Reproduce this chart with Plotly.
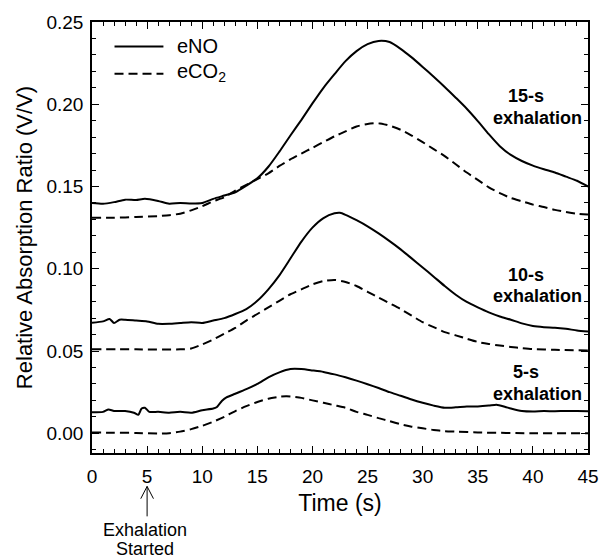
import plotly.graph_objects as go

# Time axes (s) and absorption ratios (V/V) for each breath-hold run
t_15_no = [0, 1, 2, 3, 4, 4.8, 6, 7, 8, 9, 10, 11, 12, 13, 14, 15, 16, 17, 18, 19, 20, 21, 22, 23,
           24, 25, 26, 27, 28, 29, 30, 31, 32, 33, 34, 35, 36, 37, 38, 39, 40, 41, 42, 43, 44, 45]
no_15 = [0.1400, 0.1395, 0.1405, 0.1420, 0.1418, 0.1425, 0.1412, 0.1395, 0.1400, 0.1397, 0.1400,
         0.1425, 0.1445, 0.1465, 0.1505, 0.1550, 0.1620, 0.1712, 0.1810, 0.1905, 0.2005, 0.2100,
         0.2183, 0.2262, 0.2323, 0.2365, 0.2385, 0.2378, 0.2337, 0.2285, 0.2227, 0.2167, 0.2105,
         0.2040, 0.1973, 0.1898, 0.1818, 0.1745, 0.1692, 0.1655, 0.1627, 0.1605, 0.1585, 0.1560,
         0.1535, 0.1500]

t_15_co2 = [0, 2, 4, 6, 7, 8, 9, 10, 11, 12, 13, 14, 15, 16, 17, 18, 19, 20, 21, 22, 23, 24, 25,
            26, 27, 28, 29, 30, 31, 32, 33, 34, 35, 36, 37, 38, 39, 40, 41, 42, 43, 44, 45]
co2_15 = [0.1310, 0.1310, 0.1315, 0.1320, 0.1325, 0.1335, 0.1355, 0.1380, 0.1410, 0.1435, 0.1475,
          0.1510, 0.1545, 0.1580, 0.1625, 0.1665, 0.1700, 0.1735, 0.1770, 0.1805, 0.1835, 0.1865,
          0.1880, 0.1885, 0.1870, 0.1845, 0.1810, 0.1770, 0.1727, 0.1685, 0.1635, 0.1585, 0.1540,
          0.1495, 0.1460, 0.1430, 0.1410, 0.1390, 0.1375, 0.1358, 0.1345, 0.1335, 0.1330]

t_10_no = [0, 1, 1.6, 2, 2.5, 3, 4, 5, 6, 7, 8, 9, 10, 11, 12, 13, 14, 15, 16, 17, 18, 19, 20,
           21, 22, 22.5, 23, 24, 25, 26, 27, 28, 29, 30, 31, 32, 33, 34, 35, 36, 37, 38, 39, 40,
           41, 42, 43, 44, 45]
no_10 = [0.0672, 0.0680, 0.0695, 0.0670, 0.0690, 0.0690, 0.0685, 0.0680, 0.0665, 0.0665, 0.0670,
         0.0675, 0.0670, 0.0685, 0.0700, 0.0725, 0.0755, 0.0805, 0.0875, 0.0960, 0.1062, 0.1165,
         0.1250, 0.1308, 0.1337, 0.1340, 0.1328, 0.1295, 0.1258, 0.1215, 0.1168, 0.1118, 0.1063,
         0.1008, 0.0952, 0.0895, 0.0842, 0.0798, 0.0765, 0.0735, 0.0710, 0.0690, 0.0668, 0.0652,
         0.0645, 0.0642, 0.0635, 0.0625, 0.0618]

t_10_co2 = [0, 4, 8, 9, 10, 11, 12, 13, 14, 15, 16, 17, 18, 19, 20, 21, 22, 23, 24, 25, 26, 27,
            28, 29, 30, 31, 32, 33, 34, 35, 36, 37, 38, 39, 40, 42, 45]
co2_10 = [0.0510, 0.0510, 0.0510, 0.0515, 0.0540, 0.0570, 0.0605, 0.0640, 0.0685, 0.0725, 0.0765,
          0.0805, 0.0845, 0.0875, 0.0905, 0.0925, 0.0932, 0.0920, 0.0895, 0.0860, 0.0825, 0.0790,
          0.0755, 0.0715, 0.0675, 0.0645, 0.0615, 0.0595, 0.0575, 0.0555, 0.0543, 0.0533, 0.0525,
          0.0518, 0.0512, 0.0507, 0.0503]

t_5_no = [0, 1, 1.5, 2, 3, 3.8, 4.2, 4.5, 4.8, 5.2, 6, 7, 8, 9, 10, 11, 11.3, 11.8, 12.2, 13, 14,
          15, 16, 17, 18, 19, 20, 21, 22, 23, 24, 25, 26, 27, 28, 29, 30, 31, 32, 33, 34, 35, 36,
          36.7, 37.5, 38, 39, 40, 41, 42, 43, 44, 45]
no_5 = [0.0127, 0.0130, 0.0145, 0.0135, 0.0135, 0.0125, 0.0112, 0.0150, 0.0155, 0.0130, 0.0130,
        0.0125, 0.0130, 0.0125, 0.0140, 0.0150, 0.0158, 0.0198, 0.0218, 0.0240, 0.0268, 0.0300,
        0.0340, 0.0370, 0.0390, 0.0390, 0.0382, 0.0373, 0.0358, 0.0340, 0.0320, 0.0298, 0.0275,
        0.0250, 0.0228, 0.0205, 0.0185, 0.0168, 0.0155, 0.0158, 0.0163, 0.0163, 0.0168, 0.0174,
        0.0160, 0.0150, 0.0135, 0.0132, 0.0135, 0.0134, 0.0136, 0.0135, 0.0134]

t_5_co2 = [0, 2, 4, 6, 7, 8, 9, 10, 11, 12, 13, 14, 15, 16, 17, 17.6, 18, 19, 20, 21, 22, 23, 24,
           25, 26, 27, 28, 29, 30, 31, 32, 33, 35, 40, 45]
co2_5 = [0.0005, 0.0003, 0.0002, -0.0002, 0.0000, 0.0010, 0.0025, 0.0045, 0.0070, 0.0100, 0.0135,
         0.0165, 0.0190, 0.0210, 0.0222, 0.0225, 0.0224, 0.0215, 0.0200, 0.0185, 0.0170, 0.0155,
         0.0130, 0.0112, 0.0092, 0.0074, 0.0055, 0.0040, 0.0030, 0.0020, 0.0013, 0.0010, 0.0005,
         0.0000, 0.0000]

run_labels = ["15-s", "10-s", "5-s"]
run_label_y = [0.205, 0.0964, 0.0371]
word_y = [0.1917, 0.0833, 0.0241]

FONT = "Liberation Sans, Arial, sans-serif"
DASH = "9px,5px"

fig = go.Figure()
series = [
    (t_15_no, no_15, "solid"), (t_15_co2, co2_15, DASH),
    (t_10_no, no_10, "solid"), (t_10_co2, co2_10, DASH),
    (t_5_no, no_5, "solid"), (t_5_co2, co2_5, DASH),
]
for tx, ys, dash in series:
    fig.add_trace(go.Scatter(
        x=tx, y=ys, mode="lines", showlegend=False,
        line=dict(color="black", width=2, dash=dash, shape="spline", smoothing=0.6),
    ))

axis_common = dict(
    showline=True, linecolor="black", linewidth=1.5, mirror="allticks",
    ticks="inside", ticklen=7, tickwidth=1.2, tickcolor="black",
    showgrid=False, zeroline=False,
    tickfont=dict(family=FONT, size=19, color="black"),
)

fig.update_xaxes(
    range=[0, 45], tickmode="linear", tick0=0, dtick=5, ticklabelstandoff=5,
    minor=dict(dtick=1, ticks="inside", ticklen=4, tickwidth=1, tickcolor="black"),
    title=dict(text="Time (s)", font=dict(family=FONT, size=23, color="black"), standoff=9),
    **axis_common,
)
fig.update_yaxes(
    range=[-0.012, 0.25], tickmode="linear", tick0=0, dtick=0.05, tickformat=".2f",
    ticklabelstandoff=3,
    minor=dict(dtick=0.01, ticks="inside", ticklen=4, tickwidth=1, tickcolor="black"),
    title=dict(text="Relative Absorption Ratio (V/V)",
               font=dict(family=FONT, size=22, color="black"), standoff=8),
    **axis_common,
)

annotations = []
for lab, yl, yw in zip(run_labels, run_label_y, word_y):
    annotations.append(dict(x=39.4, y=yl, xref="x", yref="y", text=f"<b>{lab}</b>",
                            yanchor="middle", showarrow=False,
                            font=dict(family=FONT, size=18, color="black")))
    annotations.append(dict(x=40.45, y=yw, xref="x", yref="y", text="<b>exhalation</b>",
                            yanchor="middle", showarrow=False,
                            font=dict(family=FONT, size=18, color="black")))

# legend entries
annotations.append(dict(x=0.168, y=0.945, xref="paper", yref="paper", text="eNO",
                        xanchor="left", yanchor="middle", showarrow=False,
                        font=dict(family=FONT, size=20, color="black")))
annotations.append(dict(x=0.168, y=0.882, xref="paper", yref="paper", text="eCO<sub>2</sub>",
                        xanchor="left", yanchor="middle", showarrow=False,
                        font=dict(family=FONT, size=20, color="black")))

# start-of-exhalation marker below the time axis
annotations.append(dict(x=4.85, y=-0.178, xref="x", yref="paper", text="Exhalation",
                        yanchor="middle", showarrow=False,
                        font=dict(family=FONT, size=18, color="black")))
annotations.append(dict(x=4.85, y=-0.222, xref="x", yref="paper", text="Started",
                        yanchor="middle", showarrow=False,
                        font=dict(family=FONT, size=18, color="black")))

shapes = [
    dict(type="line", xref="paper", yref="paper", x0=0.0454, x1=0.144, y0=0.943, y1=0.943,
         line=dict(color="black", width=2)),
    dict(type="line", xref="paper", yref="paper", x0=0.0454, x1=0.144, y0=0.880, y1=0.880,
         line=dict(color="black", width=2, dash=DASH)),
    dict(type="path", xref="paper", yref="paper",
         path="M 0.1111,-0.0775 L 0.1111,-0.147 M 0.0983,-0.106 L 0.1111,-0.0775 L 0.1239,-0.106",
         line=dict(color="black", width=1)),
]

fig.update_layout(
    width=611, height=559,
    margin=dict(l=92, r=12, t=18, b=106),
    paper_bgcolor="white", plot_bgcolor="white",
    annotations=annotations, shapes=shapes,
    font=dict(family=FONT, color="black"),
)

fig.write_html("out.html")
